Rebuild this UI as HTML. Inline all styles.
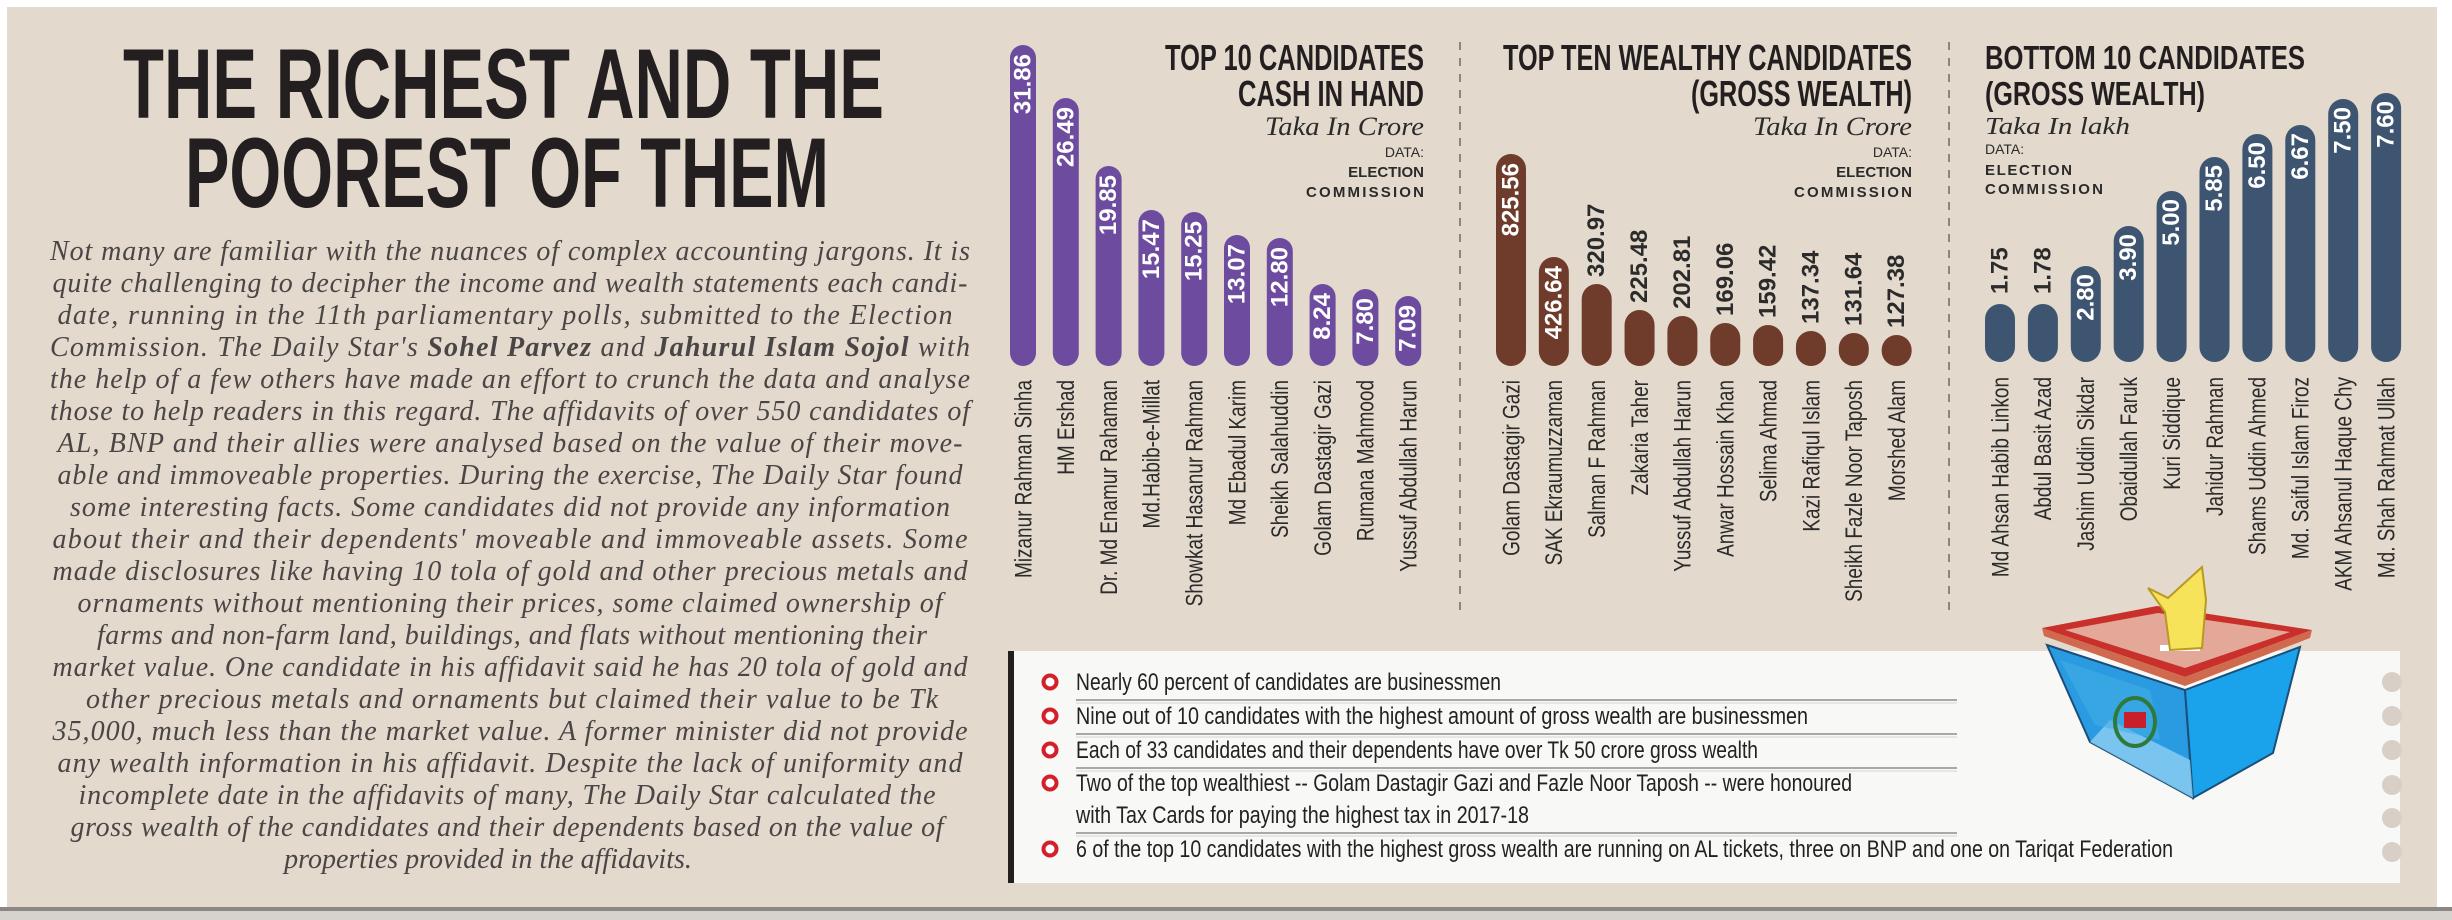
<!DOCTYPE html>
<html><head><meta charset="utf-8"><style>
html,body{margin:0;padding:0;background:#fff;}
svg{display:block;}
.n{font-family:"Liberation Sans",sans-serif;font-size:24px;fill:#2b2b2b;}
.v{font-family:"Liberation Sans",sans-serif;font-weight:bold;font-size:24px;}
.t{font-family:"Liberation Sans Narrow","Liberation Sans",sans-serif;font-weight:bold;fill:#231f20;}
.it{font-family:"Liberation Serif",serif;font-style:italic;fill:#2b2b2b;}
.p{font-family:"Liberation Serif",serif;font-style:italic;font-size:28px;fill:#4a4646;}
.b{font-family:"Liberation Sans Narrow","Liberation Sans",sans-serif;font-size:24px;fill:#222;}
</style></head><body>
<svg width="2452" height="920" viewBox="0 0 2452 920" xmlns="http://www.w3.org/2000/svg">
<rect x="0" y="0" width="2452" height="920" fill="#ffffff"/>
<rect x="7" y="7" width="2430" height="900" fill="#e3d9cc"/>
<rect x="0" y="907" width="2452" height="4" fill="#8a8784"/>
<rect x="0" y="911" width="2452" height="9" fill="#d6d2ce"/>

<text class="t" x="123" y="118" font-size="99" textLength="761" lengthAdjust="spacingAndGlyphs">THE RICHEST AND THE</text>
<text class="t" x="185" y="207" font-size="99" textLength="644" lengthAdjust="spacingAndGlyphs">POOREST OF THEM</text>

<g class="p" text-anchor="middle">
<text x="510" y="260" textLength="920" lengthAdjust="spacing">Not many are familiar with the nuances of complex accounting jargons. It is</text>
<text x="510" y="292" textLength="915" lengthAdjust="spacing">quite challenging to decipher the income and wealth statements each candi-</text>
<text x="505" y="324" textLength="895" lengthAdjust="spacing">date, running in the 11th parliamentary polls, submitted to the Election</text>
<text x="510" y="356" textLength="920" lengthAdjust="spacing">Commission. The Daily Star's <tspan font-weight="bold">Sohel Parvez</tspan> and <tspan font-weight="bold">Jahurul Islam Sojol</tspan> with</text>
<text x="510" y="388" textLength="920" lengthAdjust="spacing">the help of a few others have made an effort to crunch the data and analyse</text>
<text x="510" y="420" textLength="920" lengthAdjust="spacing">those to help readers in this regard. The affidavits of over 550 candidates of</text>
<text x="510" y="452" textLength="905" lengthAdjust="spacing">AL, BNP and their allies were analysed based on the value of their move-</text>
<text x="510" y="484" textLength="905" lengthAdjust="spacing">able and immoveable properties. During the exercise, The Daily Star found</text>
<text x="510" y="516" textLength="880" lengthAdjust="spacing">some interesting facts. Some candidates did not provide any information</text>
<text x="510" y="548" textLength="915" lengthAdjust="spacing">about their and their dependents' moveable and immoveable assets. Some</text>
<text x="510" y="580" textLength="915" lengthAdjust="spacing">made disclosures like having 10 tola of gold and other precious metals and</text>
<text x="510" y="612" textLength="865" lengthAdjust="spacing">ornaments without mentioning their prices, some claimed ownership of</text>
<text x="512" y="644" textLength="830" lengthAdjust="spacing">farms and non-farm land, buildings, and flats without mentioning their</text>
<text x="510" y="676" textLength="915" lengthAdjust="spacing">market value. One candidate in his affidavit said he has 20 tola of gold and</text>
<text x="512" y="708" textLength="852" lengthAdjust="spacing">other precious metals and ornaments but claimed their value to be Tk</text>
<text x="510" y="740" textLength="915" lengthAdjust="spacing">35,000, much less than the market value. A former minister did not provide</text>
<text x="510" y="772" textLength="905" lengthAdjust="spacing">any wealth information in his affidavit. Despite the lack of uniformity and</text>
<text x="507" y="804" textLength="857" lengthAdjust="spacing">incomplete date in the affidavits of many, The Daily Star calculated the</text>
<text x="507" y="836" textLength="873" lengthAdjust="spacing">gross wealth of the candidates and their dependents based on the value of</text>
<text x="488" y="868">properties provided in the affidavits.</text>
</g>

<line x1="1460" y1="42" x2="1460" y2="612" stroke="#8c8680" stroke-width="2" stroke-dasharray="8,8"/>
<line x1="1949" y1="42" x2="1949" y2="612" stroke="#8c8680" stroke-width="2" stroke-dasharray="8,8"/>

<text class="t" x="1424" y="70" font-size="36" text-anchor="end" textLength="259" lengthAdjust="spacingAndGlyphs">TOP 10 CANDIDATES</text>
<text class="t" x="1424" y="106" font-size="36" text-anchor="end" textLength="186" lengthAdjust="spacingAndGlyphs">CASH IN HAND</text>
<text class="it" x="1424" y="135" font-size="26" text-anchor="end" textLength="159" lengthAdjust="spacingAndGlyphs">Taka In Crore</text>
<text x="1424" y="157" font-family="Liberation Sans,sans-serif" font-size="14" fill="#2b2b2b" text-anchor="end">DATA:</text>
<text x="1424" y="177" font-family="Liberation Sans,sans-serif" font-size="15" font-weight="bold" fill="#2b2b2b" text-anchor="end">ELECTION</text>
<text x="1424" y="197" font-family="Liberation Sans,sans-serif" font-size="15" font-weight="bold" fill="#2b2b2b" text-anchor="end" textLength="118">COMMISSION</text>

<text class="t" x="1912" y="70" font-size="36" text-anchor="end" textLength="409" lengthAdjust="spacingAndGlyphs">TOP TEN WEALTHY CANDIDATES</text>
<text class="t" x="1912" y="106" font-size="36" text-anchor="end" textLength="221" lengthAdjust="spacingAndGlyphs">(GROSS WEALTH)</text>
<text class="it" x="1912" y="135" font-size="26" text-anchor="end" textLength="159" lengthAdjust="spacingAndGlyphs">Taka In Crore</text>
<text x="1912" y="157" font-family="Liberation Sans,sans-serif" font-size="14" fill="#2b2b2b" text-anchor="end">DATA:</text>
<text x="1912" y="177" font-family="Liberation Sans,sans-serif" font-size="15" font-weight="bold" fill="#2b2b2b" text-anchor="end">ELECTION</text>
<text x="1912" y="197" font-family="Liberation Sans,sans-serif" font-size="15" font-weight="bold" fill="#2b2b2b" text-anchor="end" textLength="118">COMMISSION</text>

<text x="1985" y="69" font-family="Liberation Sans,sans-serif" font-weight="bold" font-size="33" fill="#231f20" textLength="320" lengthAdjust="spacingAndGlyphs">BOTTOM 10 CANDIDATES</text>
<text x="1985" y="105" font-family="Liberation Sans,sans-serif" font-weight="bold" font-size="33" fill="#231f20" textLength="220" lengthAdjust="spacingAndGlyphs">(GROSS WEALTH)</text>
<text class="it" x="1985" y="134" font-size="24" textLength="145" lengthAdjust="spacingAndGlyphs">Taka In lakh</text>
<text x="1985" y="154" font-family="Liberation Sans,sans-serif" font-size="14" fill="#2b2b2b">DATA:</text>
<text x="1985" y="175" font-family="Liberation Sans,sans-serif" font-size="15" font-weight="bold" fill="#2b2b2b" textLength="87">ELECTION</text>
<text x="1985" y="194" font-family="Liberation Sans,sans-serif" font-size="15" font-weight="bold" fill="#2b2b2b" textLength="118">COMMISSION</text>

<g fill="#6d4c9f">
<rect x="1010" y="45" width="26" height="321" rx="13"/>
<rect x="1052.8" y="98" width="26" height="268" rx="13"/>
<rect x="1095.6" y="166" width="26" height="200" rx="13"/>
<rect x="1138.4" y="210" width="26" height="156" rx="13"/>
<rect x="1181.2" y="212" width="26" height="154" rx="13"/>
<rect x="1224" y="235" width="26" height="131" rx="13"/>
<rect x="1266.8" y="238" width="26" height="128" rx="13"/>
<rect x="1309.6" y="284" width="26" height="82" rx="13"/>
<rect x="1352.4" y="289" width="26" height="77" rx="13"/>
<rect x="1395.2" y="296" width="26" height="70" rx="13"/>
</g>
<g class="v" fill="#fff" text-anchor="end" dominant-baseline="central">
<text transform="translate(1023,54) rotate(-90)">31.86</text>
<text transform="translate(1065.8,107) rotate(-90)">26.49</text>
<text transform="translate(1108.6,175) rotate(-90)">19.85</text>
<text transform="translate(1151.4,219) rotate(-90)">15.47</text>
<text transform="translate(1194.2,221) rotate(-90)">15.25</text>
<text transform="translate(1237,244) rotate(-90)">13.07</text>
<text transform="translate(1279.8,247) rotate(-90)">12.80</text>
<text transform="translate(1322.6,293) rotate(-90)">8.24</text>
<text transform="translate(1365.4,298) rotate(-90)">7.80</text>
<text transform="translate(1408.2,305) rotate(-90)">7.09</text>
</g>
<g class="n" text-anchor="end" dominant-baseline="central">
<text transform="translate(1023,380) rotate(-90) scale(0.79,1)">Mizanur Rahman Sinha</text>
<text transform="translate(1065.8,380) rotate(-90) scale(0.79,1)">HM Ershad</text>
<text transform="translate(1108.6,380) rotate(-90) scale(0.79,1)">Dr. Md Enamur Rahaman</text>
<text transform="translate(1151.4,380) rotate(-90) scale(0.79,1)">Md.Habib-e-Millat</text>
<text transform="translate(1194.2,380) rotate(-90) scale(0.79,1)">Showkat Hasanur Rahman</text>
<text transform="translate(1237,380) rotate(-90) scale(0.79,1)">Md Ebadul Karim</text>
<text transform="translate(1279.8,380) rotate(-90) scale(0.79,1)">Sheikh Salahuddin</text>
<text transform="translate(1322.6,380) rotate(-90) scale(0.79,1)">Golam Dastagir Gazi</text>
<text transform="translate(1365.4,380) rotate(-90) scale(0.79,1)">Rumana Mahmood</text>
<text transform="translate(1408.2,380) rotate(-90) scale(0.79,1)">Yussuf Abdullah Harun</text>
</g>

<g fill="#6f3c2b">
<rect x="1496" y="154" width="30" height="212" rx="15"/>
<rect x="1538.85" y="257" width="30" height="109" rx="15"/>
<rect x="1581.7" y="284" width="30" height="82" rx="15"/>
<rect x="1624.55" y="310" width="30" height="56" rx="15"/>
<rect x="1667.4" y="316" width="30" height="50" rx="15"/>
<rect x="1710.25" y="323" width="30" height="43" rx="15"/>
<rect x="1753.1" y="325" width="30" height="41" rx="15"/>
<rect x="1795.95" y="331" width="30" height="35" rx="15"/>
<rect x="1838.8" y="333" width="30" height="33" rx="15"/>
<rect x="1881.65" y="335" width="30" height="31" rx="15"/>
</g>
<g class="v" dominant-baseline="central">
<text fill="#fff" text-anchor="end" transform="translate(1511,163) rotate(-90)">825.56</text>
<text fill="#fff" text-anchor="end" transform="translate(1553.85,266) rotate(-90)">426.64</text>
<g fill="#2b2b2b" text-anchor="start">
<text transform="translate(1596.7,277) rotate(-90)">320.97</text>
<text transform="translate(1639.55,303) rotate(-90)">225.48</text>
<text transform="translate(1682.4,309) rotate(-90)">202.81</text>
<text transform="translate(1725.25,316) rotate(-90)">169.06</text>
<text transform="translate(1768.1,318) rotate(-90)">159.42</text>
<text transform="translate(1810.95,324) rotate(-90)">137.34</text>
<text transform="translate(1853.8,326) rotate(-90)">131.64</text>
<text transform="translate(1896.65,328) rotate(-90)">127.38</text>
</g></g>
<g class="n" text-anchor="end" dominant-baseline="central">
<text transform="translate(1511,380) rotate(-90) scale(0.79,1)">Golam Dastagir Gazi</text>
<text transform="translate(1553.85,380) rotate(-90) scale(0.79,1)">SAK Ekraumuzzaman</text>
<text transform="translate(1596.7,380) rotate(-90) scale(0.79,1)">Salman F Rahman</text>
<text transform="translate(1639.55,380) rotate(-90) scale(0.79,1)">Zakaria Taher</text>
<text transform="translate(1682.4,380) rotate(-90) scale(0.79,1)">Yussuf Abdullah Harun</text>
<text transform="translate(1725.25,380) rotate(-90) scale(0.79,1)">Anwar Hossain Khan</text>
<text transform="translate(1768.1,380) rotate(-90) scale(0.79,1)">Selima Ahmad</text>
<text transform="translate(1810.95,380) rotate(-90) scale(0.79,1)">Kazi Rafiqul Islam</text>
<text transform="translate(1853.8,380) rotate(-90) scale(0.79,1)">Sheikh Fazle Noor Taposh</text>
<text transform="translate(1896.65,380) rotate(-90) scale(0.79,1)">Morshed Alam</text>
</g>

<g fill="#3d5570">
<rect x="1985" y="304" width="30" height="58" rx="15"/>
<rect x="2027.9" y="304" width="30" height="58" rx="15"/>
<rect x="2070.8" y="266" width="30" height="96" rx="15"/>
<rect x="2113.7" y="226" width="30" height="136" rx="15"/>
<rect x="2156.6" y="191" width="30" height="171" rx="15"/>
<rect x="2199.5" y="157" width="30" height="205" rx="15"/>
<rect x="2242.4" y="134" width="30" height="228" rx="15"/>
<rect x="2285.3" y="125" width="30" height="237" rx="15"/>
<rect x="2328.2" y="99" width="30" height="263" rx="15"/>
<rect x="2371.1" y="93" width="30" height="269" rx="15"/>
</g>
<g class="v" dominant-baseline="central">
<text fill="#2b2b2b" text-anchor="start" transform="translate(2000,294) rotate(-90)">1.75</text>
<text fill="#2b2b2b" text-anchor="start" transform="translate(2042.9,294) rotate(-90)">1.78</text>
<g fill="#fff" text-anchor="end">
<text transform="translate(2085.8,274) rotate(-90)">2.80</text>
<text transform="translate(2128.7,234) rotate(-90)">3.90</text>
<text transform="translate(2171.6,199) rotate(-90)">5.00</text>
<text transform="translate(2214.5,165) rotate(-90)">5.85</text>
<text transform="translate(2257.4,142) rotate(-90)">6.50</text>
<text transform="translate(2300.3,133) rotate(-90)">6.67</text>
<text transform="translate(2343.2,107) rotate(-90)">7.50</text>
<text transform="translate(2386.1,101) rotate(-90)">7.60</text>
</g></g>
<g class="n" text-anchor="end" dominant-baseline="central">
<text transform="translate(2000,377) rotate(-90) scale(0.79,1)">Md Ahsan Habib Linkon</text>
<text transform="translate(2042.9,377) rotate(-90) scale(0.79,1)">Abdul Basit Azad</text>
<text transform="translate(2085.8,377) rotate(-90) scale(0.79,1)">Jashim Uddin Sikdar</text>
<text transform="translate(2128.7,377) rotate(-90) scale(0.79,1)">Obaidullah Faruk</text>
<text transform="translate(2171.6,377) rotate(-90) scale(0.79,1)">Kuri Siddique</text>
<text transform="translate(2214.5,377) rotate(-90) scale(0.79,1)">Jahidur Rahman</text>
<text transform="translate(2257.4,377) rotate(-90) scale(0.79,1)">Shams Uddin Ahmed</text>
<text transform="translate(2300.3,377) rotate(-90) scale(0.79,1)">Md. Saiful Islam Firoz</text>
<text transform="translate(2343.2,377) rotate(-90) scale(0.79,1)">AKM Ahsanul Haque Chy</text>
<text transform="translate(2386.1,377) rotate(-90) scale(0.79,1)">Md. Shah Rahmat Ullah</text>
</g>

<rect x="1008" y="651" width="1392" height="232" fill="#f8f8f7"/>
<rect x="1008" y="651" width="6" height="232" fill="#231f20"/>
<g fill="#d8d0c6">
<circle cx="2392" cy="682" r="10"/><circle cx="2392" cy="716" r="10"/><circle cx="2392" cy="750" r="10"/>
<circle cx="2392" cy="785" r="10"/><circle cx="2392" cy="818" r="10"/><circle cx="2392" cy="852" r="10"/>
</g>
<g stroke="#a8a8a8" stroke-width="2">
<line x1="1076" y1="700" x2="1957" y2="700"/>
<line x1="1076" y1="734" x2="1957" y2="734"/>
<line x1="1076" y1="768" x2="1957" y2="768"/>
<line x1="1076" y1="833" x2="1957" y2="833"/>
</g>
<g stroke="#d4d4d4" stroke-width="1">
<line x1="1076" y1="703" x2="1957" y2="703"/>
<line x1="1076" y1="737" x2="1957" y2="737"/>
<line x1="1076" y1="771" x2="1957" y2="771"/>
<line x1="1076" y1="836" x2="1957" y2="836"/>
</g>
<g fill="#fff" stroke="#d3202a" stroke-width="4">
<circle cx="1050" cy="682" r="6.5"/><circle cx="1050" cy="716" r="6.5"/><circle cx="1050" cy="750" r="6.5"/>
<circle cx="1050" cy="783" r="6.5"/><circle cx="1050" cy="849" r="6.5"/>
</g>
<g class="b">
<text x="1076" y="690" textLength="425" lengthAdjust="spacingAndGlyphs">Nearly 60 percent of candidates are businessmen</text>
<text x="1076" y="724" textLength="732" lengthAdjust="spacingAndGlyphs">Nine out of 10 candidates with the highest amount of gross wealth are businessmen</text>
<text x="1076" y="758" textLength="682" lengthAdjust="spacingAndGlyphs">Each of 33 candidates and their dependents have over Tk 50 crore gross wealth</text>
<text x="1076" y="791" textLength="776" lengthAdjust="spacingAndGlyphs">Two of the top wealthiest -- Golam Dastagir Gazi and Fazle Noor Taposh -- were honoured</text>
<text x="1076" y="823" textLength="453" lengthAdjust="spacingAndGlyphs">with Tax Cards for paying the highest tax in 2017-18</text>
<text x="1076" y="857" textLength="1097" lengthAdjust="spacingAndGlyphs">6 of the top 10 candidates with the highest gross wealth are running on AL tickets, three on BNP and one on Tariqat Federation</text>
</g>

<polygon points="2047,645 2185,690 2193,798 2090,742" fill="#2a9be0" stroke="#1b4f7a" stroke-width="2"/>
<polygon points="2185,690 2300,647 2273,753 2193,798" fill="#1aa3ea" stroke="#1b4f7a" stroke-width="2"/>
<polygon points="2090,742 2193,798 2190,760 2110,720" fill="#8fd0f3" opacity="0.8"/>
<polygon points="2060,660 2150,690 2160,740 2095,725" fill="#45aee6" opacity="0.6"/>
<polygon points="2042,628 2157,606 2312,630 2185,677" fill="#c9302c"/>
<polygon points="2042,628 2185,677 2185,686 2044,636" fill="#d06a4e"/>
<polygon points="2185,677 2312,630 2310,638 2185,686" fill="#d06a4e"/>
<polygon points="2065,630 2158,613 2290,632 2185,668" fill="#e3a898"/>
<rect x="2160" y="645" width="40" height="6" fill="#fff"/>
<path d="M2148,588 L2168,598 L2202,567 L2206,600 L2202,648 L2170,650 L2165,612 Z" fill="#f6e35a" stroke="#b89a20" stroke-width="2"/>
<ellipse cx="2135" cy="722" rx="20" ry="24" fill="none" stroke="#2f7a3a" stroke-width="4"/>
<rect x="2124" y="712" width="22" height="16" fill="#c8202a"/>
</svg>
</body></html>
